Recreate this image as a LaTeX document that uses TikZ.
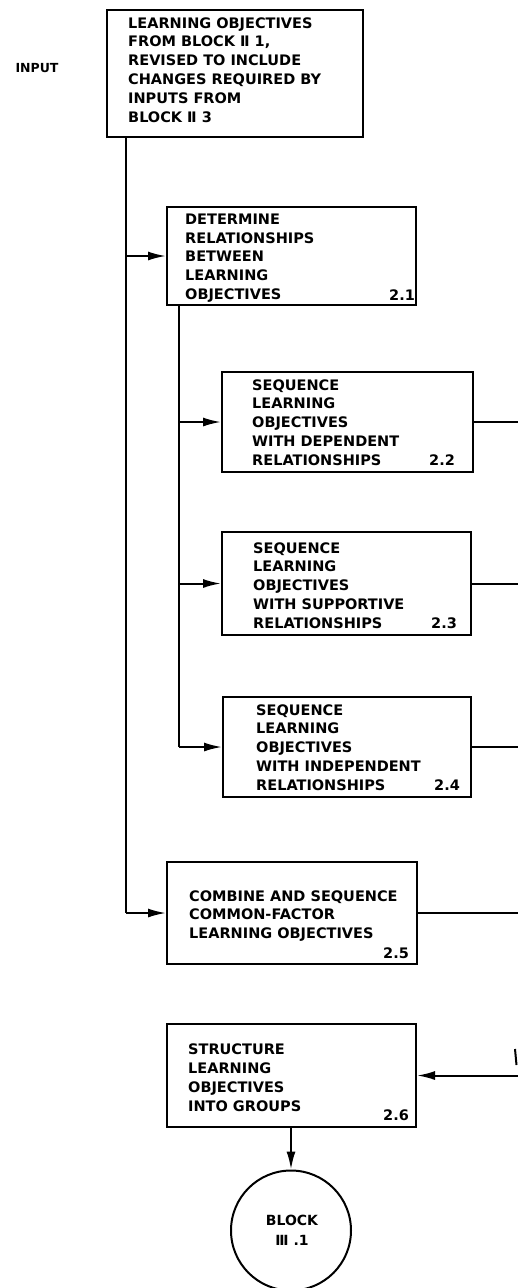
\documentclass[tikz,border=0pt]{standalone}
\usepackage{fontspec}
\setmainfont{DejaVu Sans}
\usetikzlibrary{arrows.meta}
\tikzset{
  box/.style={draw, line width=2pt, rectangle, inner sep=0pt},
  txt/.style={font=\fontsize{14.5}{18.8}\selectfont\bfseries, align=left, inner sep=0pt, anchor=base west},
  num/.style={font=\fontsize{14.5}{16}\selectfont\bfseries, inner sep=0pt, anchor=base},
  conn/.style={line width=2pt},
  arr/.style={line width=2pt, -{Latex[length=18pt,width=9pt]}},
  endcirc/.style={draw, circle, line width=2pt, minimum size=120pt, inner sep=0pt},
}
\begin{document}
\begin{tikzpicture}[x=1pt,y=-1pt]
\useasboundingbox (0,0) rectangle (518,1288);
% boxes
\node[box, minimum width=256pt, minimum height=127pt] (top) at (235,73.5) {};
\node[box, minimum width=249pt, minimum height=98pt] (b21) at (291.5,256) {};
\node[box, minimum width=251pt, minimum height=100pt] (b22) at (347.5,422) {};
\node[box, minimum width=249pt, minimum height=103pt] (b23) at (346.5,583.5) {};
\node[box, minimum width=248pt, minimum height=100pt] (b24) at (347,747) {};
\node[box, minimum width=250pt, minimum height=102pt] (b25) at (292,913) {};
\node[box, minimum width=249pt, minimum height=103pt] (b26) at (291.5,1075.5) {};
\node[endcirc] (blk) at (291,1230.5) {};
% texts (base = baseline of the last line)
\node[font=\fontsize{12.5}{14}\selectfont\bfseries, inner sep=0pt] (inp) at (37,68) {INPUT};
\node[txt] (ttop) at (128,122) {LEARNING OBJECTIVES\\FROM BLOCK Ⅱ 1,\\REVISED TO INCLUDE\\CHANGES REQUIRED BY\\INPUTS FROM\\BLOCK Ⅱ 3};
\node[txt] (t21) at (185,299.5) {DETERMINE\\RELATIONSHIPS\\BETWEEN\\LEARNING\\OBJECTIVES};
\node[num] (n21) at (402,300) {2.1};
\node[txt] (t22) at (252,465.3) {SEQUENCE\\LEARNING\\OBJECTIVES\\WITH DEPENDENT\\RELATIONSHIPS};
\node[num] (n22) at (442,465.3) {2.2};
\node[txt] (t23) at (253,628.3) {SEQUENCE\\LEARNING\\OBJECTIVES\\WITH SUPPORTIVE\\RELATIONSHIPS};
\node[num] (n23) at (444,628.3) {2.3};
\node[txt] (t24) at (256,790.3) {SEQUENCE\\LEARNING\\OBJECTIVES\\WITH INDEPENDENT\\RELATIONSHIPS};
\node[num] (n24) at (447,790.3) {2.4};
\node[txt] (t25) at (189,938.6) {COMBINE AND SEQUENCE\\COMMON-FACTOR\\LEARNING OBJECTIVES};
\node[num] (n25) at (396,958.3) {2.5};
\node[txt] (t26) at (188,1111) {STRUCTURE\\LEARNING\\OBJECTIVES\\INTO GROUPS};
\node[num] (n26) at (396,1120.3) {2.6};
\node[font=\fontsize{14}{20}\selectfont\bfseries, align=center, inner sep=0pt] (tblk) at (292,1230) {BLOCK\\Ⅲ .1};
% helper coordinates
\coordinate (t1) at (126,0);
\coordinate (t2) at (179,0);
\coordinate (edge) at (518,0);
% main trunk
\draw[conn] (top.south -| t1) -- (t1 |- b25.west);
\draw[arr] (t1 |- b25.west) -- (b25.west);
\draw[arr] (t1 |- b21.west) -- (b21.west);
% second trunk
\draw[conn] (b21.south -| t2) -- (t2 |- b24.west);
\draw[arr] (t2 |- b24.west) -- (b24.west);
\draw[arr] (t2 |- b22.west) -- (b22.west);
\draw[arr] (t2 |- b23.west) -- (b23.west);
% outputs to the right
\draw[conn] (b22.east) -- (b22.east -| edge);
\draw[conn] (b23.east) -- (b23.east -| edge);
\draw[conn] (b24.east) -- (b24.east -| edge);
\draw[conn] (b25.east) -- (b25.east -| edge);
% input to 2.6
\draw[arr] (b26.east -| edge) -- (b26.east);
\coordinate (f1) at (515,1049);
\coordinate (f2) at (516.5,1065);
\draw[conn] (f1) -- (f2);
% to block III.1
\draw[arr] (b26.south -| blk) -- (blk.north);
\end{tikzpicture}
\end{document}
